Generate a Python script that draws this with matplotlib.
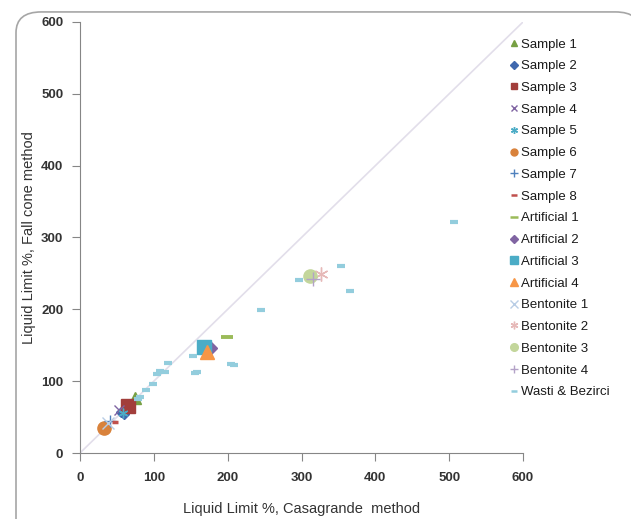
import matplotlib
matplotlib.use("Agg")
import matplotlib.pyplot as plt
from matplotlib.lines import Line2D
from matplotlib.patches import FancyBboxPatch

plt.rcParams['font.family'] = ['Liberation Sans', 'DejaVu Sans']

# series: name, x (Casagrande), y (fall cone)
names = ['Sample 1', 'Sample 2', 'Sample 3', 'Sample 4', 'Sample 5', 'Sample 6',
         'Sample 7', 'Sample 8', 'Artificial 1', 'Artificial 2', 'Artificial 3',
         'Artificial 4', 'Bentonite 1', 'Bentonite 2', 'Bentonite 3', 'Bentonite 4',
         'Wasti & Bezirci']
xs = [[74], [56, 60], [65], [53], [58], [32], [41], [47], [199], [178], [168],
      [172], [38], [326], [311], [316],
      [507, 354, 366, 296, 245, 153, 119, 108, 115, 104, 99, 89, 81, 79, 156, 158, 204, 209]]
ys = [[76], [57, 54], [65], [60], [55], [35], [45], [43], [162], [146], [147],
      [141], [42], [249], [246], [242],
      [321, 261, 225, 241, 199, 135, 125, 114, 113, 110, 96, 88, 78, 75, 112, 113, 124, 122]]

asterisk = (6, 2, 0)
markers = ['^', 'D', 's', 'x', asterisk, 'o', '+', '_', '_', 'D', 's', '^', 'x', asterisk, 'o', '+', '_']
colors = ['#77A043', '#3F68AE', '#A23E3B', '#8064A2', '#4BACC6', '#D9823B',
          '#4F81BD', '#C0504D', '#9BBB59', '#8064A2', '#4BACC6', '#F79646',
          '#B9CDE5', '#E6B9B8', '#C3D69B', '#B3A2C7', '#93CDDD']
sizes = [9, 5.5, 9.5, 7, 7, 9.5, 8, 4.5, 9, 6, 9.5, 9.5, 8, 10, 9.5, 10, 5.5]
widths = [1, 1, 1, 1, 1, 1, 1, 2.5, 2.8, 1, 1, 1, 1, 1, 1, 1, 3]
leg_sizes = [5, 4, 5, 5, 5, 5, 6, 4, 6, 4, 5.5, 5.5, 6, 5.5, 5.5, 6, 4]

fig = plt.figure(figsize=(6.31, 5.19), dpi=100)
frame = FancyBboxPatch((16 / 631, -0.05), 0.99, 1.027,
                       boxstyle="round,pad=0,rounding_size=0.04",
                       transform=fig.transFigure, facecolor='white',
                       edgecolor='#A6A6A6', linewidth=1.2, zorder=-5)
fig.patches.append(frame)

ax = fig.add_axes([80 / 631, 66 / 519, 443 / 631, 431 / 519])
ax.set_facecolor('none')
ax.plot([0, 600], [0, 600], color='#E2DEEA', lw=1.2, zorder=1)

handles = []
for i in range(len(names)):
    ax.plot(xs[i], ys[i], linestyle='none', marker=markers[i], color=colors[i],
            markersize=sizes[i], markeredgewidth=widths[i], zorder=3)
    lw = 1.8 if markers[i] == '_' else 1
    handles.append(Line2D([], [], linestyle='none', marker=markers[i], color=colors[i],
                          markersize=leg_sizes[i], markeredgewidth=lw))

ax.set_xlim(0, 600)
ax.set_ylim(0, 600)
ax.set_xticks(range(0, 601, 100))
ax.set_yticks(range(0, 601, 100))
for s in ['top', 'right']:
    ax.spines[s].set_visible(False)
for s in ['left', 'bottom']:
    ax.spines[s].set_color('#868686')
ax.tick_params(direction='out', length=6, color='#868686', labelsize=9.5,
               labelcolor='#333333')
for lab in ax.get_xticklabels() + ax.get_yticklabels():
    lab.set_fontweight('bold')
ax.tick_params(axis='x', pad=8)
ax.tick_params(axis='y', pad=6)

ax.set_xlabel('Liquid Limit %, Casagrande  method', fontsize=10.5, color='#333333', labelpad=13)
ax.set_ylabel('Liquid Limit %, Fall cone method', fontsize=10.5, color='#333333', labelpad=4)

fig.legend(handles, names, loc='upper left', bbox_to_anchor=(505 / 631, 1 - 33 / 519),
           frameon=False, fontsize=9.5, handlelength=0.6, handletextpad=0.25,
           labelspacing=0.72, borderaxespad=0, labelcolor='#1a1a1a')

fig.savefig('out.png', dpi=100)
